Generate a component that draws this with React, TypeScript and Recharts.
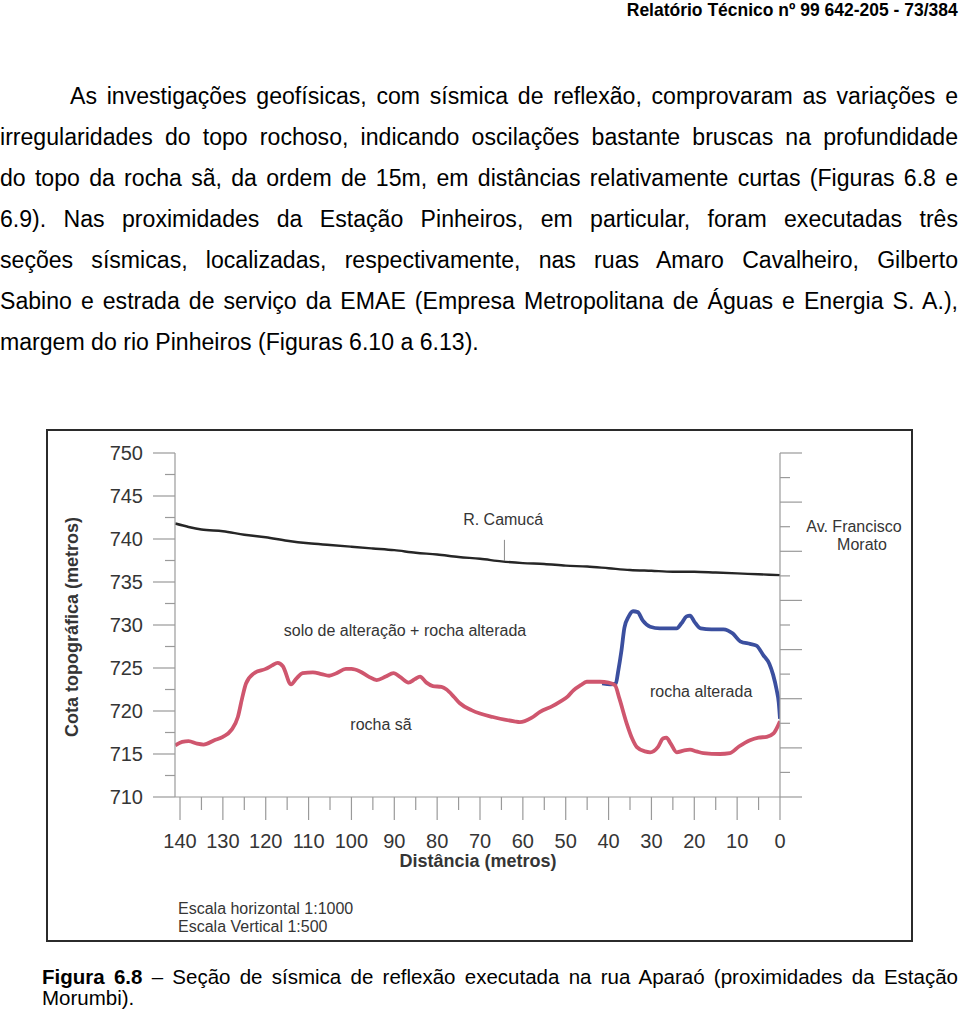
import React from 'react';
import { ComposedChart, Line, XAxis, YAxis, ReferenceLine, ReferenceDot } from 'recharts';

// superfície do terreno (linha preta)
const surfaceDist = [141.1, 138, 135, 130, 125, 120, 115, 110, 105, 100, 95, 90, 85, 80, 75, 70, 65, 60, 55, 50, 45, 40, 35, 30, 25, 20, 15, 10, 5, 0];
const surfaceElev = [741.8, 741.4, 741.1, 740.9, 740.5, 740.2, 739.8, 739.5, 739.3, 739.1, 738.9, 738.7, 738.4, 738.2, 737.9, 737.7, 737.4, 737.2, 737.1, 736.9, 736.8, 736.6, 736.4, 736.3, 736.2, 736.2, 736.1, 736.0, 735.9, 735.8];

// topo da rocha sã (linha vermelha)
const soundDist = [141.1, 139.5, 138, 136, 134.5, 132, 130, 128, 126.5, 125.5, 124.6, 122.7, 120, 118.5, 117.2, 116, 114.1, 112.8, 111.4, 109, 107, 105.2, 103.5, 101.3, 100, 98, 96, 94.1, 92, 90.2, 88.5, 86.7, 85.2, 84, 82.5, 81, 79, 77.8, 76, 74.7, 72, 70, 67, 65.3, 62, 60.7, 58, 56, 53, 51.3, 49.5, 48.2, 46.5, 45.1, 42, 40, 38.5, 37.5, 35.8, 34.5, 33.4, 31.5, 30.3, 28.5, 27.3, 26.5, 25.5, 24.1, 22.5, 21, 19.5, 17.9, 14, 11.7, 9.5, 7, 5, 3.1, 1.5, 0];
const soundElev = [716.0, 716.4, 716.5, 716.2, 716.1, 716.6, 717.0, 717.8, 719.3, 721.5, 723.2, 724.4, 724.9, 725.3, 725.6, 725.2, 723.1, 723.8, 724.4, 724.5, 724.3, 724.1, 724.4, 724.9, 724.9, 724.6, 724.0, 723.6, 724.0, 724.4, 723.9, 723.3, 723.7, 724.0, 723.3, 722.9, 722.8, 722.5, 721.6, 720.9, 720.1, 719.7, 719.3, 719.1, 718.8, 718.7, 719.2, 719.9, 720.6, 721.1, 721.7, 722.4, 723.0, 723.4, 723.4, 723.3, 723.0, 721.5, 718.6, 716.8, 715.8, 715.3, 715.2, 715.8, 716.8, 716.9, 716.2, 715.2, 715.4, 715.5, 715.3, 715.1, 715.0, 715.1, 715.9, 716.6, 716.9, 717.0, 717.4, 718.8];

// topo da rocha alterada (linha azul)
const weatheredDist = [41.5, 39.5, 38.3, 37.8, 37, 36.3, 35.3, 34.3, 33.2, 32, 30.3, 28, 25.5, 24.1, 23, 21.8, 21, 20, 18.5, 16, 13.2, 11, 9.3, 7, 5.5, 3.9, 2.5, 1.6, 0.8, 0.3, 0];
const weatheredElev = [723.2, 723.1, 723.2, 724.5, 727.0, 729.7, 731.0, 731.6, 731.5, 730.5, 729.8, 729.6, 729.6, 729.6, 730.2, 731.0, 731.1, 730.4, 729.6, 729.5, 729.5, 729.0, 728.1, 727.8, 727.6, 726.5, 725.5, 724.2, 722.5, 721.0, 719.1];

const xTicks = [140, 135, 130, 125, 120, 115, 110, 105, 100, 95, 90, 85, 80, 75, 70, 65, 60, 55, 50, 45, 40, 35, 30, 25, 20, 15, 10, 5, 0];
const yTicks = [710, 712.5, 715, 717.5, 720, 722.5, 725, 727.5, 730, 732.5, 735, 737.5, 740, 742.5, 745, 747.5, 750];
const rightTicks = [710, 712.86, 715.71, 718.57, 721.43, 724.29, 727.14, 730, 732.86, 735.71, 738.57, 741.43, 744.29, 747.14, 750];

const paragraph = [
  'As investigações geofísicas, com sísmica de reflexão, comprovaram as variações e',
  'irregularidades do topo rochoso, indicando oscilações bastante bruscas na profundidade',
  'do topo da rocha sã, da ordem de 15m, em distâncias relativamente curtas (Figuras 6.8 e',
  '6.9). Nas proximidades da Estação Pinheiros, em particular, foram executadas três',
  'seções sísmicas, localizadas, respectivamente, nas ruas Amaro Cavalheiro, Gilberto',
  'Sabino e estrada de serviço da EMAE (Empresa Metropolitana de Águas e Energia S. A.),',
  'margem do rio Pinheiros (Figuras 6.10 a 6.13).',
];

const toPoints = (d: number[], v: number[]) => d.map((x, i) => ({ d: x, v: v[i] }));
const surface = toPoints(surfaceDist, surfaceElev);
const sound = toPoints(soundDist, soundElev);
const weathered = toPoints(weatheredDist, weatheredElev);

const FONT = '"Liberation Sans", Arial, sans-serif';
const AXIS = '#9a9a9a';
const TXT = '#353535';

function LeftTick({ x, y, payload }: any) {
  const major = payload.value % 5 === 0;
  return (
    <g>
      <line x1={x - (major ? 22 : 10)} x2={x} y1={y} y2={y} stroke={AXIS} strokeWidth={1.2} />
      {major && (
        <text x={x - 32} y={y} dy="0.36em" textAnchor="end" fontSize={20} fontFamily={FONT} fill={TXT}>
          {payload.value}
        </text>
      )}
    </g>
  );
}

function RightTick({ x, y, index }: any) {
  const len = index % 2 === 0 ? 22 : 10;
  return <line x1={x} x2={x + len} y1={y} y2={y} stroke={AXIS} strokeWidth={1.2} />;
}

function BottomTick({ x, y, payload }: any) {
  const major = payload.value % 10 === 0;
  return (
    <g>
      <line x1={x} x2={x} y1={y} y2={y + (major ? 23 : 13)} stroke={AXIS} strokeWidth={1.2} />
      {major && (
        <text x={x} y={y + 44} dy="0.36em" textAnchor="middle" fontSize={20} fontFamily={FONT} fill={TXT}>
          {payload.value}
        </text>
      )}
    </g>
  );
}

const note = (value: string) => ({ value, position: 'center' as const, fontSize: 16, fontFamily: FONT, fill: TXT });

export default function App() {
  return (
    <div style={{ position: 'relative', width: 960, height: 1014, fontFamily: FONT, color: '#000', overflow: 'hidden' }}>
      <style>{'body{margin:0}'}</style>

      <div
        style={{
          position: 'absolute', right: 2, top: 0, fontSize: 19, lineHeight: '20px', fontWeight: 700,
          transform: 'scaleX(0.92)', transformOrigin: 'right top', whiteSpace: 'nowrap',
        }}
      >
        Relatório Técnico nº 99 642-205 - 73/384
      </div>

      <div style={{ position: 'absolute', left: 0, top: 76, width: 958, fontSize: 23.1, lineHeight: '41px' }}>
        {paragraph.map((line, i) => (
          <div
            key={i}
            style={{
              paddingLeft: i === 0 ? 70 : 0,
              textAlign: 'justify',
              textAlignLast: i === paragraph.length - 1 ? 'left' : 'justify',
              whiteSpace: 'nowrap',
            }}
          >
            {line}
          </div>
        ))}
      </div>

      <div
        style={{
          position: 'absolute', left: 46, top: 429, width: 867, height: 513,
          border: '2px solid #2b2b2b', boxSizing: 'border-box',
        }}
      />

      <div style={{ position: 'absolute', left: 46, top: 429 }}>
        <ComposedChart width={867} height={513} margin={{ top: 24, right: 0, bottom: 0, left: 0 }}>
          <XAxis
            dataKey="d"
            type="number"
            domain={[0, 141.17]}
            reversed
            ticks={xTicks}
            interval={0}
            height={145}
            tickSize={0}
            tickMargin={0}
            tick={<BottomTick />}
            axisLine={{ stroke: AXIS, strokeWidth: 1.2 }}
            allowDataOverflow
          />
          <YAxis
            yAxisId="l"
            type="number"
            domain={[710, 750]}
            ticks={yTicks}
            interval={0}
            width={129}
            tickSize={0}
            tickMargin={0}
            tick={<LeftTick />}
            axisLine={{ stroke: AXIS, strokeWidth: 1.2 }}
            allowDataOverflow
          />
          <YAxis
            yAxisId="r"
            orientation="right"
            type="number"
            domain={[710, 750]}
            ticks={rightTicks}
            interval={0}
            width={133}
            tickSize={0}
            tickMargin={0}
            tick={<RightTick />}
            axisLine={{ stroke: AXIS, strokeWidth: 1.2 }}
            allowDataOverflow
          />
          <ReferenceLine
            yAxisId="l"
            segment={[{ x: 64.3, y: 737.5 }, { x: 64.3, y: 739.9 }]}
            stroke="#8a8a8a"
            strokeWidth={1}
          />
          <Line yAxisId="l" data={surface} dataKey="v" type="monotone" stroke="#262626" strokeWidth={2.4} dot={false} activeDot={false} isAnimationActive={false} />
          <Line yAxisId="l" data={weathered} dataKey="v" type="monotone" stroke="#3b4f9f" strokeWidth={3.8} dot={false} activeDot={false} isAnimationActive={false} />
          <Line yAxisId="l" data={sound} dataKey="v" type="monotone" stroke="#cf566e" strokeWidth={3.8} dot={false} activeDot={false} isAnimationActive={false} />
          <ReferenceDot yAxisId="l" x={64.6} y={742.3} r={0} fill="none" stroke="none" label={note('R. Camucá')} />
          <ReferenceDot yAxisId="l" x={87.5} y={729.4} r={0} fill="none" stroke="none" label={note('solo de alteração + rocha alterada')} />
          <ReferenceDot yAxisId="l" x={93.1} y={718.5} r={0} fill="none" stroke="none" label={note('rocha sã')} />
          <ReferenceDot yAxisId="l" x={18.4} y={722.3} r={0} fill="none" stroke="none" label={note('rocha alterada')} />
        </ComposedChart>
      </div>

      <div style={{ position: 'absolute', left: 780, width: 150, top: 518, fontSize: 16, lineHeight: '18px', color: TXT }}>
        <div style={{ position: 'absolute', left: 74, transform: 'translateX(-50%)', whiteSpace: 'nowrap' }}>Av. Francisco</div>
        <div style={{ position: 'absolute', left: 82, top: 18, transform: 'translateX(-50%)', whiteSpace: 'nowrap' }}>Morato</div>
      </div>

      <div
        style={{
          position: 'absolute', left: 72, top: 627, fontSize: 18, fontWeight: 700, color: TXT,
          transform: 'translate(-50%, -50%) rotate(-90deg)', whiteSpace: 'nowrap',
        }}
      >
        Cota topográfica (metros)
      </div>
      <div
        style={{
          position: 'absolute', left: 478, top: 861, fontSize: 18, fontWeight: 700, color: TXT,
          transform: 'translate(-50%, -50%)', whiteSpace: 'nowrap',
        }}
      >
        Distância (metros)
      </div>

      <div style={{ position: 'absolute', left: 178, top: 900, fontSize: 16, lineHeight: '18px', color: TXT }}>
        <div>Escala horizontal 1:1000</div>
        <div>Escala Vertical 1:500</div>
      </div>

      <div style={{ position: 'absolute', left: 42, top: 966, width: 916, fontSize: 20.5, lineHeight: '21px' }}>
        <div style={{ textAlign: 'justify', textAlignLast: 'justify', whiteSpace: 'nowrap' }}>
          <b>Figura 6.8</b> – Seção de sísmica de reflexão executada na rua Aparaó (proximidades da Estação
        </div>
        <div>Morumbi).</div>
      </div>
    </div>
  );
}
